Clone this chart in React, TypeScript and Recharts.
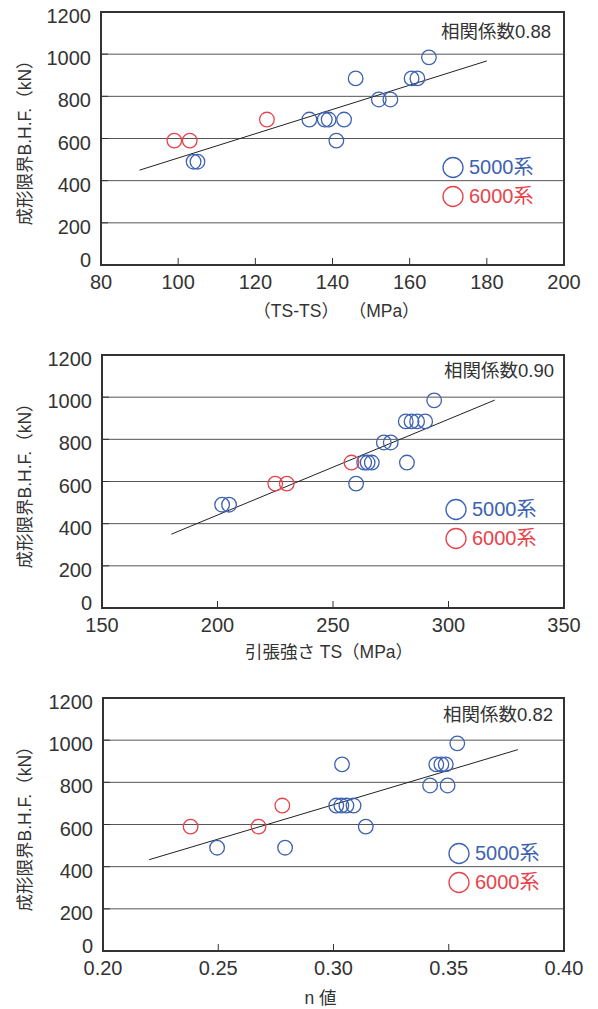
import {
  ScatterChart,
  Scatter,
  XAxis,
  YAxis,
  CartesianGrid,
  ReferenceLine,
  ReferenceArea,
  Legend,
  Label,
} from 'recharts'

// panel 1: (TS-TS) vs B.H.F.
const diff5000X = [104, 105, 134, 138, 139, 143, 141, 146, 152, 155, 160.5, 162, 165]
const diff5000Y = [490, 490, 690, 690, 690, 690, 590, 885, 785, 785, 885, 885, 985]
const diff6000X = [99, 103, 123]
const diff6000Y = [590, 590, 690]
const diffFitX = [90, 180]
const diffFitY = [450, 968]
const diffTicks = [80, 100, 120, 140, 160, 180, 200]

// panel 2: 引張強さ TS vs B.H.F.
const ts5000X = [202, 205, 260, 263.5, 265, 266.8, 282, 272, 275, 281.5, 284, 286.4, 289.9, 293.8]
const ts5000Y = [490, 490, 590, 690, 690, 690, 690, 785, 785, 885, 885, 885, 885, 985]
const ts6000X = [225, 230, 258]
const ts6000Y = [590, 590, 690]
const tsFitX = [180, 320]
const tsFitY = [350, 986]
const tsTicks = [150, 200, 250, 300, 350]

// panel 3: n値 vs B.H.F.
const n5000X = [0.2495, 0.279, 0.3012, 0.3034, 0.3056, 0.3087, 0.3037, 0.314, 0.3419, 0.3495, 0.3446, 0.3468, 0.3487, 0.3537]
const n5000Y = [490, 490, 690, 690, 690, 690, 885, 590, 785, 785, 885, 885, 885, 985]
const n6000X = [0.238, 0.2675, 0.2778]
const n6000Y = [590, 590, 690]
const nFitX = [0.22, 0.38]
const nFitY = [433, 955]
const nTicks = [0.2, 0.25, 0.3, 0.35, 0.4]

const bhfTicks = [0, 200, 400, 600, 800, 1000, 1200]
const seriesNames = ['5000系', '6000系']

const BLUE = '#3d62b2'
const RED = '#e8434b'
const TEXT = '#333'
const FONT = "'Liberation Sans', 'Noto Sans CJK JP', sans-serif"

const toPoints = (xs: number[], ys: number[]) => xs.map((x, i) => ({ x, y: ys[i] }))

function ringShape(color: string, r: number) {
  return (props: any) => (
    <circle cx={props.cx} cy={props.cy} r={r} fill="none" stroke={color} strokeWidth={1.3} />
  )
}

function YTick(props: any) {
  const { x, y, payload } = props
  const dy = payload.value === 0 ? -5 : 4
  return (
    <text x={x} y={y + dy} textAnchor="end" dominantBaseline="central" fill={TEXT} fontSize={20} fontFamily={FONT}>
      {payload.value}
    </text>
  )
}

function LegendBox() {
  return (
    <div style={{ fontFamily: FONT, fontSize: 20, lineHeight: '29px' }}>
      {seriesNames.map((name, i) => (
        <div key={name} style={{ display: 'flex', alignItems: 'center', color: i === 0 ? BLUE : RED }}>
          <svg width={22} height={29} style={{ marginRight: 5 }}>
            <circle cx={11} cy={14.5} r={10} fill="none" stroke={i === 0 ? BLUE : RED} strokeWidth={1.3} />
          </svg>
          <span>{name}</span>
        </div>
      ))}
    </div>
  )
}

type PanelProps = {
  top: number
  height: number
  axisHeight: number
  yAxisWidth: number
  blue: { x: number; y: number }[]
  red: { x: number; y: number }[]
  fitX: number[]
  fitY: number[]
  ticks: number[]
  digits: number
  xTitle: string
  xTitleDy: number
  xTitleDx: number
  corr: string
  corrRight: number
  corrY: number
  legendLeft: number
  legendTop: number
}

function Panel(p: PanelProps) {
  const xMin = p.ticks[0]
  const xMax = p.ticks[p.ticks.length - 1]
  return (
    <div style={{ position: 'absolute', left: 0, top: p.top, width: 598, height: p.height }}>
      <ScatterChart width={598} height={p.height} margin={{ top: 12, right: 34, bottom: 0, left: 0 }}>
        <CartesianGrid horizontal vertical={false} stroke="#555" strokeWidth={1} />
        <XAxis
          type="number"
          dataKey="x"
          domain={[xMin, xMax]}
          ticks={p.ticks}
          allowDataOverflow
          height={p.axisHeight}
          axisLine={false}
          tickSize={-7}
          tickMargin={17}
          tickLine={{ stroke: TEXT }}
          tick={{ fill: TEXT, fontSize: 20, fontFamily: FONT }}
          tickFormatter={(v: number) => v.toFixed(p.digits)}
          label={
            <Label
              content={(lp: any) => {
                const vb = lp.viewBox
                return (
                  <text
                    x={vb.x + vb.width / 2 + p.xTitleDx}
                    y={vb.y + p.xTitleDy}
                    textAnchor="middle"
                    dominantBaseline="central"
                    fill={TEXT}
                    fontSize={17.5}
                    fontFamily={FONT}
                    style={{ whiteSpace: 'pre' }}
                  >
                    {p.xTitle}
                  </text>
                )
              }}
            />
          }
        />
        <YAxis
          type="number"
          dataKey="y"
          domain={[0, 1200]}
          ticks={bhfTicks}
          width={p.yAxisWidth}
          axisLine={false}
          tickSize={-7}
          tickMargin={17}
          tickLine={{ stroke: TEXT }}
          tick={<YTick />}
          label={
            <Label
              content={(lp: any) => {
                const vb = lp.viewBox
                const cy = vb.y + vb.height / 2
                return (
                  <text
                    x={25}
                    y={cy}
                    transform={`rotate(-90 25 ${cy})`}
                    textAnchor="middle"
                    dominantBaseline="central"
                    fill={TEXT}
                    fontSize={17.5}
                    fontFamily={FONT}
                  >
                    成形限界B.H.F.（kN）
                  </text>
                )
              }}
            />
          }
        />
        <ReferenceArea x1={xMin} x2={xMax} y1={0} y2={1200} fill="none" stroke={TEXT} strokeWidth={2} />
        <ReferenceLine
          segment={[
            { x: p.fitX[0], y: p.fitY[0] },
            { x: p.fitX[1], y: p.fitY[1] },
          ]}
          stroke="#222"
          strokeWidth={1}
        />
        <Scatter name={seriesNames[0]} data={p.blue} shape={ringShape(BLUE, 7.3)} isAnimationActive={false} />
        <Scatter name={seriesNames[1]} data={p.red} shape={ringShape(RED, 7.3)} isAnimationActive={false} />
        <Legend
          layout="horizontal"
          align="center"
          verticalAlign="middle"
          content={<LegendBox />}
          wrapperStyle={{ position: 'absolute', left: p.legendLeft, top: p.legendTop, width: 'auto', bottom: 'auto' }}
        />
      </ScatterChart>
      <div
        style={{
          position: 'absolute',
          right: 598 - p.corrRight,
          top: p.corrY - 13,
          fontFamily: FONT,
          fontSize: 18.5,
          lineHeight: '26px',
          color: TEXT,
          whiteSpace: 'nowrap',
        }}
      >
        {p.corr}
      </div>
    </div>
  )
}

export default function App() {
  return (
    <div style={{ position: 'absolute', left: 0, top: 0, width: 598, height: 1009, overflow: 'hidden', background: '#fff' }}>
      <Panel
        top={0}
        height={343}
        axisHeight={78}
        yAxisWidth={101}
        blue={toPoints(diff5000X, diff5000Y)}
        red={toPoints(diff6000X, diff6000Y)}
        fitX={diffFitX}
        fitY={diffFitY}
        ticks={diffTicks}
        digits={0}
        xTitle="（TS-TS）  （MPa）"
        xTitleDy={46}
        xTitleDx={4}
        corr="相関係数0.88"
        corrRight={551}
        corrY={32}
        legendLeft={442}
        legendTop={153}
      />
      <Panel
        top={343}
        height={343}
        axisHeight={78}
        yAxisWidth={102}
        blue={toPoints(ts5000X, ts5000Y)}
        red={toPoints(ts6000X, ts6000Y)}
        fitX={tsFitX}
        fitY={tsFitY}
        ticks={tsTicks}
        digits={0}
        xTitle="引張強さ TS（MPa）"
        xTitleDy={44}
        xTitleDx={-4}
        corr="相関係数0.90"
        corrRight={554}
        corrY={28}
        legendLeft={445}
        legendTop={152}
      />
      <Panel
        top={686}
        height={323}
        axisHeight={58}
        yAxisWidth={103}
        blue={toPoints(n5000X, n5000Y)}
        red={toPoints(n6000X, n6000Y)}
        fitX={nFitX}
        fitY={nFitY}
        ticks={nTicks}
        digits={2}
        xTitle="n 値"
        xTitleDy={47}
        xTitleDx={-13}
        corr="相関係数0.82"
        corrRight={553}
        corrY={29}
        legendLeft={448}
        legendTop={153}
      />
    </div>
  )
}
